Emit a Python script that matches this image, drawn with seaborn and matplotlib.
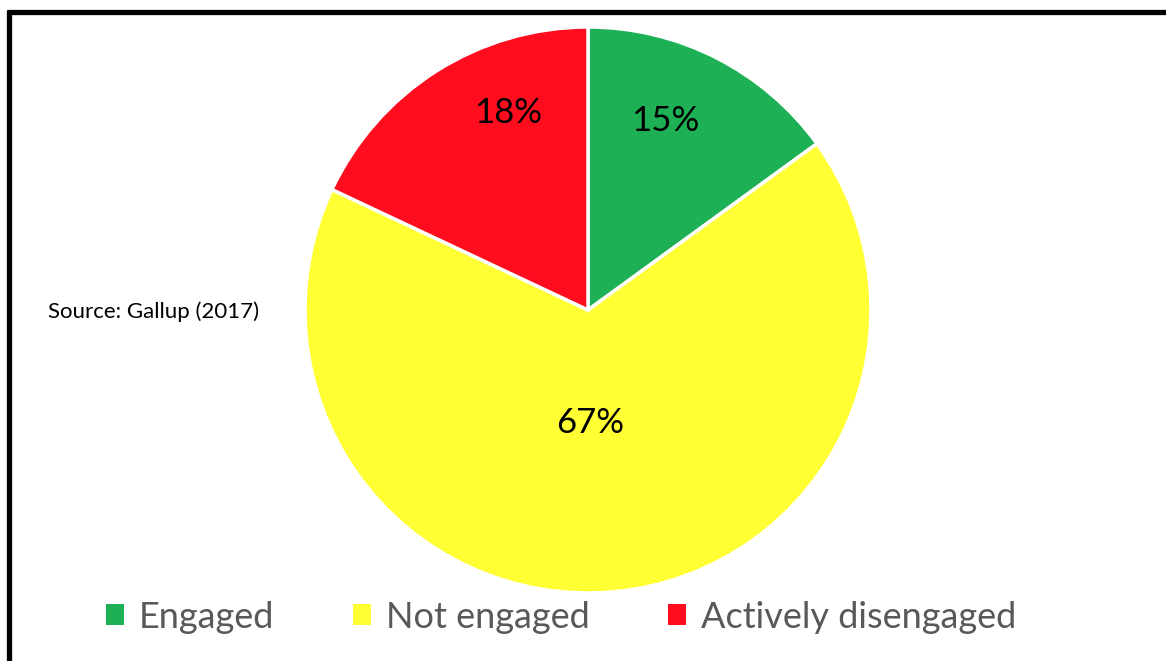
import matplotlib
matplotlib.use("Agg")
import matplotlib.pyplot as plt
from matplotlib.lines import Line2D
from matplotlib.patches import Patch
import seaborn as sns
import numpy as np

categories = ["Engaged", "Not engaged", "Actively disengaged"]
values = [15, 67, 18]
colors = ["#1DB054", "#FFFF33", "#FF0D1F"]
label_dist = [0.72, 0.40, 0.75]
label_shift_deg = [4.7, -4.4, -10.4]

sns.set_theme(style="white")
plt.rcParams['font.family'] = ['Lato', 'DejaVu Sans']

W, H = 1166, 661
fig = plt.figure(figsize=(W / 100, H / 100), dpi=100)
fig.patch.set_facecolor("white")

cx, cy, r = 588, 310, 283
ax = fig.add_axes([(cx - r) / W, (H - cy - r) / H, 2 * r / W, 2 * r / H])
wedges, _ = ax.pie(values, colors=colors, startangle=90, counterclock=False,
                   wedgeprops=dict(edgecolor="white", linewidth=2.5))
ax.set_xlim(-1, 1)
ax.set_ylim(-1, 1)
ax.set_aspect("equal")
ax.axis("off")

for w, v, d, s in zip(wedges, values, label_dist, label_shift_deg):
    ang = np.deg2rad((w.theta1 + w.theta2) / 2 + s)
    ax.text(d * np.cos(ang), d * np.sin(ang), f"{v}%", ha="center", va="center",
            fontsize=25, color="black")

fig.text(48 / W, 1 - 312 / H, "Source: Gallup (2017)", fontsize=16,
         color="black", ha="left", va="center")

handles = [Patch(facecolor=c, edgecolor="none") for c in colors]
leg = fig.legend(handles, categories, loc="center", bbox_to_anchor=(561 / W, 1 - 617 / H),
                 ncol=3, frameon=False, fontsize=26, handlelength=0.5, handleheight=0.5,
                 handletextpad=0.42, columnspacing=2.16)
for t in leg.get_texts():
    t.set_color("#595959")

# border (top and left visible)
fig.add_artist(Line2D([7 / W, 1.0], [1 - 12 / H, 1 - 12 / H], transform=fig.transFigure,
                      color="black", linewidth=3.8, solid_capstyle="butt"))
fig.add_artist(Line2D([9 / W, 9 / W], [1 - 10 / H, 0.0], transform=fig.transFigure,
                      color="black", linewidth=3.8, solid_capstyle="butt"))

fig.savefig("out.png", dpi=100)
